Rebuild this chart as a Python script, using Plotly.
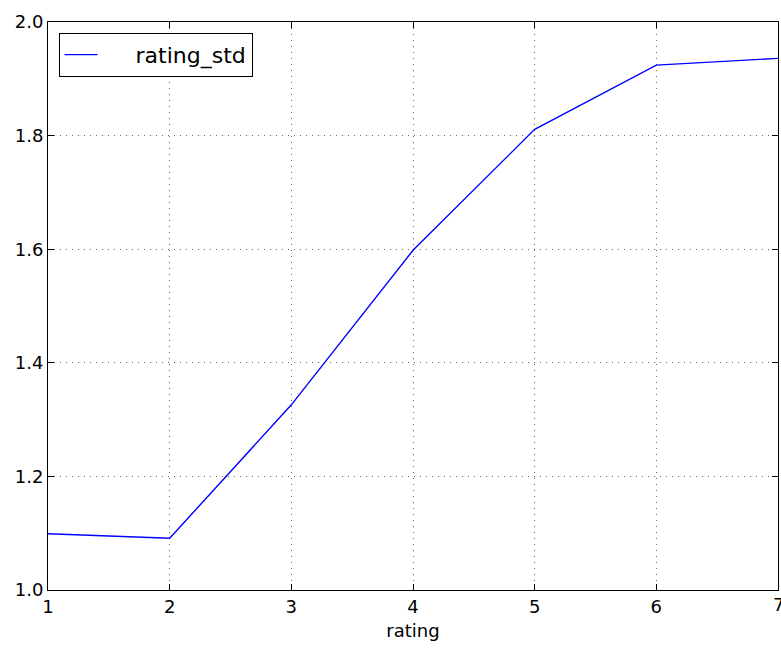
import plotly.graph_objects as go

ratings = [1, 2, 3, 4, 5, 6, 7]
rating_std = [1.099, 1.091, 1.326, 1.598, 1.811, 1.924, 1.936]
x_ticks = [1, 2, 3, 4, 5, 6, 7]
y_ticks = [1.0, 1.2, 1.4, 1.6, 1.8, 2.0]
y_tick_labels = ["1.0", "1.2", "1.4", "1.6", "1.8", "2.0"]
series_name = "rating_std"

fig = go.Figure()
fig.add_trace(go.Scatter(
    x=ratings, y=rating_std, mode="lines",
    name="\u2003\u2002" + series_name,
    line=dict(color="#0000ff", width=1.4),
))

font = "DejaVu Sans, Liberation Sans, sans-serif"
axis_common = dict(
    showline=True, linecolor="black", linewidth=1, mirror="allticks",
    ticks="inside", ticklen=6, tickcolor="black", tickwidth=1,
    showgrid=True, gridcolor="rgba(0,0,0,0.6)", griddash="1px,5px", gridwidth=1,
    zeroline=False, tickfont=dict(family=font, size=18, color="black"),
)
fig.update_xaxes(range=[1, 7], tickvals=x_ticks, ticktext=[str(v) for v in x_ticks],
                 title=dict(text="rating", font=dict(family=font, size=18, color="black"), standoff=8),
                 **axis_common)
fig.update_yaxes(range=[1.0, 2.0], tickvals=y_ticks, ticktext=y_tick_labels, **axis_common)

# last x tick label sits at the page edge in the reference; draw it explicitly
fig.add_annotation(x=x_ticks[-1], y=0, xref="x", yref="paper", yanchor="top", xanchor="center",
                   text=str(x_ticks[-1]), showarrow=False, yshift=-2,
                   font=dict(family=font, size=18, color="black"))

fig.update_layout(
    width=781, height=651,
    margin=dict(l=48, r=3, t=22, b=61),
    plot_bgcolor="white", paper_bgcolor="white",
    font=dict(family=font, color="black"),
    showlegend=True,
    legend=dict(x=0.0144, y=0.981, xanchor="left", yanchor="top",
                bordercolor="black", borderwidth=1, bgcolor="white",
                itemwidth=33,
                font=dict(family=font, size=22, color="black")),
)

fig.write_html("out.html")
